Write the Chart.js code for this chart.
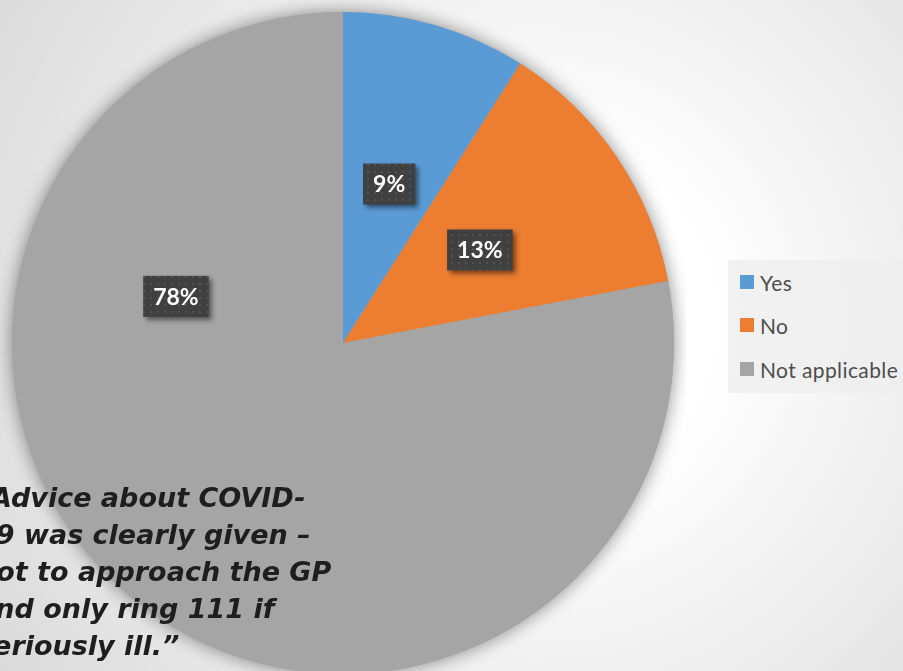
<!DOCTYPE html>
<html>
<head>
<meta charset="utf-8">
<script src="https://cdn.jsdelivr.net/npm/chart.js@4.4.0/dist/chart.umd.min.js"></script>
<style>
html,body{margin:0;padding:0;}
body{
  width:903px;height:671px;overflow:hidden;position:relative;
  background:radial-gradient(circle at 540px 320px,#ffffff 0px,#ffffff 170px,#dadada 640px);
  font-family:Lato,"Open Sans",sans-serif;
}
#wrap{position:absolute;left:0;top:0;width:686px;height:686px;}
#legend{position:absolute;left:728px;top:260px;width:175px;height:133px;background:rgba(238,238,238,0.75);}
.item{position:absolute;left:12px;height:24px;display:flex;align-items:center;font-size:21px;letter-spacing:0.4px;color:#4d4d4d;white-space:nowrap;}
.sw{width:14px;height:14px;margin-right:6px;}
#quote{
  position:absolute;left:-23px;top:479px;
  font-family:"DejaVu Sans",sans-serif;
  font-style:italic;font-weight:bold;font-size:27px;line-height:37px;
  color:#1e1e1e;white-space:nowrap;
}
</style>
</head>
<body>
<div id="wrap"><canvas id="myChart" width="686" height="686"></canvas></div>
<div id="legend"></div>
<div id="quote">“Advice about COVID-<br>19 was clearly given –<br>not to approach the GP<br>and only ring 111 if<br>seriously ill.”</div>

<script>
const labels = ['Yes', 'No', 'Not applicable'];
const values = [9, 13, 78];
const colors = ['#5B9BD5', '#ED7D31', '#A5A5A5'];

// where each label box sits inside its slice (share of the slice angle, share of radius)
const labelAngleFrac = [0.5, 0.5, 0.735];
const labelRadiusFrac = [0.5, 0.5, 0.524];

document.addEventListener('DOMContentLoaded', () => {
  RenderLegend();
  RenderChart();
});

function RenderLegend(){
  const box = document.getElementById('legend');
  const tops = [10, 53, 97];
  labels.forEach((l, i) => {
    const row = document.createElement('div');
    row.className = 'item';
    row.style.top = tops[i] + 'px';
    row.innerHTML = `<span class="sw" style="background:${colors[i]}"></span>${l}`;
    box.appendChild(row);
  });
}

function dotPattern(ctx){
  const p = document.createElement('canvas');
  p.width = 7; p.height = 7;
  const pc = p.getContext('2d');
  pc.fillStyle = '#404040';
  pc.fillRect(0, 0, 7, 7);
  pc.fillStyle = '#525252';
  pc.fillRect(3, 3, 2, 2);
  return ctx.createPattern(p, 'repeat');
}

const boxLabels = {
  id: 'boxLabels',
  beforeDatasetsDraw(chart){
    // soft glow round the pie
    const arc = chart.getDatasetMeta(0).data[0];
    const ctx = chart.ctx;
    ctx.save();
    ctx.shadowColor = 'rgba(0,0,0,0.45)';
    ctx.shadowBlur = 18;
    ctx.fillStyle = '#a5a5a5';
    ctx.beginPath();
    ctx.arc(arc.x, arc.y, arc.outerRadius, 0, Math.PI * 2);
    ctx.fill();
    ctx.restore();
  },
  afterDatasetsDraw(chart){
    const ctx = chart.ctx;
    const total = values.reduce((a, b) => a + b, 0);
    const pat = dotPattern(ctx);
    chart.getDatasetMeta(0).data.forEach((arc, i) => {
      const p = arc.getProps(['x', 'y', 'startAngle', 'endAngle', 'outerRadius'], true);
      const a = p.startAngle + (p.endAngle - p.startAngle) * labelAngleFrac[i];
      const r = p.outerRadius * labelRadiusFrac[i];
      const cx = p.x + Math.cos(a) * r;
      const cy = p.y + Math.sin(a) * r;
      const txt = Math.round(values[i] / total * 100) + '%';
      ctx.save();
      ctx.font = 'bold 23px Lato';
      const w = ctx.measureText(txt).width + 20;
      const h = 41;
      ctx.shadowColor = 'rgba(0,0,0,0.5)';
      ctx.shadowBlur = 5;
      ctx.shadowOffsetX = 3;
      ctx.shadowOffsetY = 3;
      ctx.fillStyle = pat;
      ctx.fillRect(cx - w / 2, cy - h / 2, w, h);
      ctx.shadowColor = 'transparent';
      ctx.fillStyle = '#ffffff';
      ctx.textAlign = 'center';
      ctx.textBaseline = 'middle';
      ctx.fillText(txt, cx, cy + 1);
      ctx.restore();
    });
  }
};

function RenderChart(){
  const ctx = document.getElementById('myChart');
  new Chart(ctx, {
    type: 'pie',
    data: {
      labels: labels,
      datasets: [{
        data: values,
        backgroundColor: colors,
        borderWidth: 0
      }]
    },
    options: {
      responsive: false,
      animation: false,
      layout: { padding: 12 },
      plugins: {
        legend: { display: false },
        tooltip: { enabled: false }
      }
    },
    plugins: [boxLabels]
  });
}
</script>
</body>
</html>
